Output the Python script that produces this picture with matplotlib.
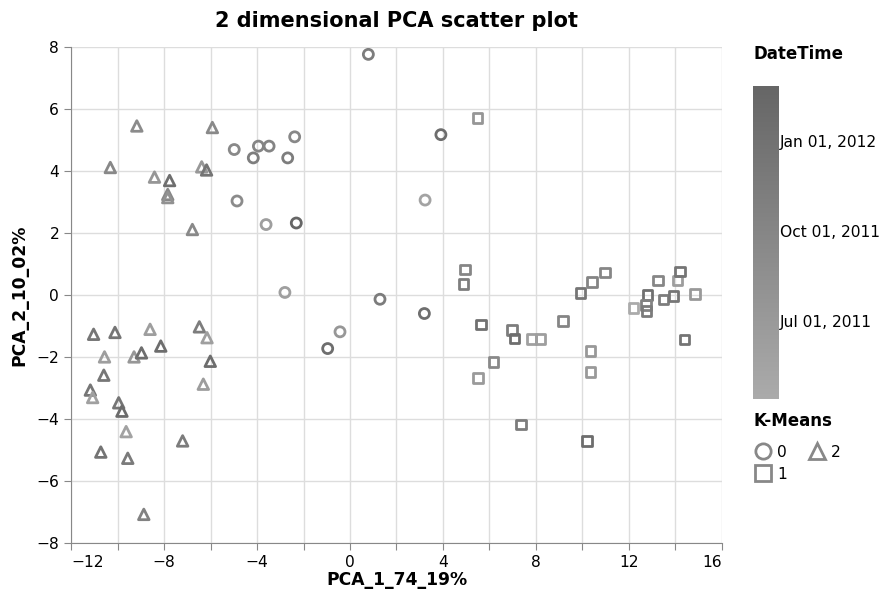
import matplotlib
matplotlib.use("Agg")
import matplotlib.pyplot as plt
import matplotlib.dates as mdates
from matplotlib.colors import LinearSegmentedColormap, Normalize
from matplotlib.lines import Line2D
import numpy as np
import pandas as pd

plt.rcParams["font.family"] = ["DejaVu Sans"]

# cluster 0
c0_x = [0.79, -4.98, -4.16, -3.94, -3.48, -2.68, -2.38, -4.86, -3.61, -2.31,
        -2.80, 1.29, -0.43, -0.96, 3.91, 3.23, 3.20]
c0_y = [7.76, 4.69, 4.42, 4.80, 4.80, 4.42, 5.10, 3.03, 2.27, 2.32,
        0.08, -0.14, -1.19, -1.73, 5.17, 3.06, -0.60]
c0_date = ["2011-11-10", "2011-09-15", "2011-11-05", "2011-10-05", "2011-10-10",
           "2011-11-10", "2011-09-20", "2011-09-10", "2011-06-10", "2012-02-26",
           "2011-06-05", "2011-11-15", "2011-07-15", "2012-01-20", "2012-01-25",
           "2011-05-20", "2012-01-15"]

# cluster 1
c1_x = [5.49, 4.96, 4.88, 5.63, 6.98, 7.07, 7.81, 8.20, 9.16, 9.92,
        10.41, 10.98, 6.18, 5.51, 10.35, 10.35, 7.35, 10.19, 12.19, 12.80,
        12.73, 12.76, 13.26, 13.49, 13.91, 14.09, 14.19, 14.83, 14.39]
c1_y = [5.71, 0.82, 0.35, -0.96, -1.14, -1.41, -1.43, -1.43, -0.84, 0.07,
        0.41, 0.72, -2.16, -2.69, -1.81, -2.48, -4.18, -4.71, -0.42, -0.01,
        -0.33, -0.52, 0.47, -0.15, -0.04, 0.47, 0.76, 0.02, -1.44]
c1_date = ["2011-07-20", "2011-10-01", "2011-11-05", "2012-01-10", "2011-11-10",
           "2012-01-20", "2011-06-01", "2011-06-10", "2011-10-05", "2011-12-20",
           "2011-10-10", "2011-10-01", "2011-09-15", "2011-07-01", "2011-07-10",
           "2011-07-05", "2011-11-15", "2012-01-25", "2011-04-12", "2012-01-15",
           "2011-10-15", "2011-11-20", "2011-10-01", "2011-11-10", "2011-12-15",
           "2011-06-15", "2011-12-20", "2011-07-05", "2011-12-25"]

# cluster 2
c2_x = [-9.17, -5.92, -10.31, -8.41, -7.76, -6.38, -6.17, -7.84, -7.84, -6.78,
        -11.03, -10.11, -8.60, -6.48, -6.15, -8.14, -10.56, -9.29, -8.97, -6.01,
        -10.59, -11.17, -11.07, -6.31, -9.95, -9.81, -9.63, -7.20, -10.72, -9.56,
        -8.87]
c2_y = [5.45, 5.40, 4.11, 3.80, 3.69, 4.13, 4.03, 3.24, 3.14, 2.11,
        -1.27, -1.21, -1.11, -1.03, -1.38, -1.65, -2.00, -2.00, -1.87, -2.14,
        -2.59, -3.07, -3.31, -2.88, -3.48, -3.75, -4.41, -4.71, -5.07, -5.27,
        -7.08]
c2_date = ["2011-09-10", "2011-09-15", "2011-09-20", "2011-07-20", "2012-01-20",
           "2011-07-10", "2011-12-20", "2011-09-25", "2011-08-10", "2011-09-15",
           "2011-12-15", "2011-12-20", "2011-06-10", "2011-11-10", "2011-06-05",
           "2012-01-25", "2011-06-10", "2011-07-15", "2012-01-20", "2012-01-25",
           "2011-12-10", "2011-12-15", "2011-06-01", "2011-06-15", "2011-12-20",
           "2012-01-30", "2011-05-25", "2011-11-15", "2011-12-25", "2011-11-20",
           "2011-10-20"]

clusters = [("0", "o", c0_x, c0_y, c0_date),
            ("1", "s", c1_x, c1_y, c1_date),
            ("2", "^", c2_x, c2_y, c2_date)]

all_dates = mdates.date2num(pd.to_datetime(c0_date + c1_date + c2_date))
norm = Normalize(vmin=all_dates.min(), vmax=all_dates.max())
cmap = LinearSegmentedColormap.from_list("greys", ["#ababab", "#666666"])

fig = plt.figure(figsize=(8.88, 5.94), dpi=100)
ax = fig.add_axes([0.080, 0.086, 0.733, 0.835])

sizes = {"o": 52, "s": 48, "^": 58}
for name, mk, xs, ys, ds in clusters:
    cols = cmap(norm(mdates.date2num(pd.to_datetime(ds))))
    ax.scatter(xs, ys, marker=mk, s=sizes[mk], facecolors="none",
               edgecolors=cols, linewidths=2.0, zorder=3)

ax.set_xlim(-12, 16)
ax.set_ylim(-8, 8)
ax.set_xticks(np.arange(-12, 17, 2))
ax.set_xticklabels([str(v).replace("-", "\u2212") if v % 4 == 0 else ""
                    for v in range(-12, 17, 2)])
ax.set_yticks(np.arange(-8, 9, 2))
ax.set_yticklabels([str(v).replace("-", "\u2212") for v in range(-8, 9, 2)])
# end labels sit flush with the axis ends
xlabels = ax.get_xticklabels()
xlabels[0].set_ha("left")
xlabels[-1].set_ha("right")
ax.grid(True, color="#dddddd", linewidth=1)
ax.set_axisbelow(True)
for side in ["top", "right"]:
    ax.spines[side].set_visible(False)
for side in ["left", "bottom"]:
    ax.spines[side].set_color("#888888")
ax.tick_params(colors="#888888", labelcolor="black", labelsize=11.2, length=5)
ax.set_xlabel("PCA_1_74_19%", fontsize=12.3, fontweight="bold", labelpad=1)
ax.set_ylabel("PCA_2_10_02%", fontsize=12.3, fontweight="bold")
ax.yaxis.set_label_coords(-0.066, 0.5)
ax.set_title("2 dimensional PCA scatter plot", fontsize=15,
             fontweight="bold", pad=14)

# DateTime gradient legend
cax = fig.add_axes([0.848, 0.328, 0.029, 0.527])
grad = np.linspace(0, 1, 256).reshape(-1, 1)
cax.imshow(grad, aspect="auto", cmap=cmap, origin="lower",
           extent=[0, 1, norm.vmin, norm.vmax])
cax.set_xticks([])
cax.yaxis.tick_right()
tick_dates = pd.to_datetime(["2011-07-01", "2011-10-01", "2012-01-01"])
cax.set_yticks(mdates.date2num(tick_dates))
cax.set_yticklabels([d.strftime("%b %d, %Y") for d in tick_dates])
cax.tick_params(length=0, pad=1, labelsize=11.2)
for s in cax.spines.values():
    s.set_visible(False)
fig.text(0.848, 0.900, "DateTime", fontsize=12, fontweight="bold")

# K-Means shape legend
fig.text(0.848, 0.282, "K-Means", fontsize=12, fontweight="bold")
handles = [Line2D([], [], marker=mk, linestyle="none", markersize=11,
                  markerfacecolor="none", markeredgecolor="#888888",
                  markeredgewidth=2, label=name)
           for name, mk, _, _, _ in clusters]
leg = fig.legend(handles=handles, loc="upper left",
                 bbox_to_anchor=(0.842, 0.262), ncol=2, frameon=False,
                 fontsize=11.2, handletextpad=0.3, columnspacing=1.3,
                 labelspacing=0.45, handlelength=1.2, borderaxespad=0)

fig.savefig("out.png", dpi=100)
